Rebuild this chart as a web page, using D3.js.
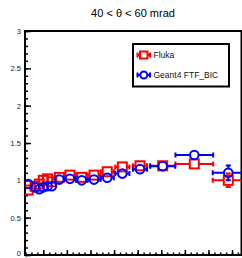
<!DOCTYPE html>
<html>
<head>
<meta charset="utf-8">
<script src="https://cdn.jsdelivr.net/npm/d3@7"></script>
<style>
  body { margin: 0; background: #fff; }
  svg { display: block; font-family: "Liberation Sans", Arial, sans-serif; }
</style>
</head>
<body>
<svg width="242" height="258"></svg>
<script>
// bin centres and half widths (arbitrary momentum units)
const binX = [0.36, 0.65, 0.83, 1.0, 1.18, 1.36, 1.68, 2.13, 2.63, 3.15, 3.71, 4.35, 5.1, 6.06, 7.4, 8.84];
const binHalf = [0.14, 0.14, 0.09, 0.09, 0.09, 0.09, 0.2, 0.25, 0.25, 0.28, 0.28, 0.3, 0.3, 0.53, 0.8, 0.66];

const flukaY = [0.87, 0.92, 0.95, 1.0, 1.02, 0.98, 1.04, 1.07, 1.04, 1.07, 1.115, 1.18, 1.195, 1.195, 1.22, 1.0];
const flukaErr = [0.02, 0.02, 0.02, 0.02, 0.02, 0.02, 0.02, 0.02, 0.02, 0.02, 0.02, 0.02, 0.02, 0.02, 0.02, 0.09];

const geantY = [0.95, 0.906, 0.88, 0.906, 0.92, 0.92, 1.01, 1.02, 1.0, 1.01, 1.035, 1.09, 1.15, 1.19, 1.34, 1.1];
const geantErr = [0.02, 0.02, 0.02, 0.02, 0.02, 0.02, 0.02, 0.02, 0.02, 0.02, 0.02, 0.02, 0.02, 0.02, 0.03, 0.1];

const yMajor = [0, 0.5, 1, 1.5, 2, 2.5, 3];
const yLabels = ["0", "0.5", "1", "1.5", "2", "2.5", "3"];
const title = "40 < \u03b8 < 60 mrad";
const legendNames = ["Fluka", "Geant4 FTF_BIC"];

const svg = d3.select("svg");
const L = 25, R = 241.5, T = 31, B = 255;

const x = d3.scaleLinear().domain([0.225, 9.4]).range([L, R]);
const y = d3.scaleLinear().domain([0, 3]).range([B, T]);

// title
svg.append("text")
  .attr("x", 133).attr("y", 16.5)
  .attr("text-anchor", "middle")
  .attr("font-size", 11)
  .text(title);

// y axis minor + major ticks
const yMinor = d3.range(0, 3.0001, 0.1);
svg.append("g")
  .attr("transform", `translate(${L},0)`)
  .call(d3.axisLeft(y).tickValues(yMinor).tickSize(-3).tickFormat(""))
  .call(g => g.select(".domain").remove())
  .call(g => g.selectAll("line").attr("stroke-width", 1.5));

svg.append("g")
  .attr("transform", `translate(${L},0)`)
  .call(d3.axisLeft(y).tickValues(yMajor).tickSize(-6).tickPadding(4)
    .tickFormat((d, i) => yLabels[i]))
  .call(g => g.select(".domain").remove())
  .call(g => g.selectAll("line").attr("stroke-width", 1.5))
  .call(g => g.selectAll("text").attr("font-size", 7.5)
    .attr("font-family", "'Liberation Sans', Arial, sans-serif").attr("fill", "#222"))
  .call(g => g.selectAll(".tick").filter(d => d === 0).select("text").attr("dy", "0.1em"));

// x axis ticks (labels fall outside the window)
const xMinor = d3.range(0.25, 9.4, 0.25);
svg.append("g")
  .attr("transform", `translate(0,${B})`)
  .call(d3.axisBottom(x).tickValues(xMinor).tickSize(-2.5).tickFormat(""))
  .call(g => g.select(".domain").remove())
  .call(g => g.selectAll("line").attr("stroke-width", 1.5));
svg.append("g")
  .attr("transform", `translate(0,${B})`)
  .call(d3.axisBottom(x).tickValues(d3.range(1, 10)).tickSize(-5).tickFormat(""))
  .call(g => g.select(".domain").remove())
  .call(g => g.selectAll("line").attr("stroke-width", 1.5));

// frame
svg.append("rect")
  .attr("x", L).attr("y", T)
  .attr("width", R - L).attr("height", B - T)
  .attr("fill", "none").attr("stroke", "#000").attr("stroke-width", 2);

svg.append("clipPath").attr("id", "plotclip")
  .append("rect").attr("x", L).attr("y", T).attr("width", R - L).attr("height", B - T);

const plot = svg.append("g").attr("clip-path", "url(#plotclip)");

function drawSeries(vals, errs, color, shape) {
  const g = plot.append("g").attr("stroke", color).attr("stroke-width", 2).attr("fill", "none");
  const gap = 4.5, cap = 2.5;
  binX.forEach((bx, i) => {
    const cx = x(bx), cy = y(vals[i]);
    const x0 = x(bx - binHalf[i]), x1 = x(bx + binHalf[i]);
    const y0 = y(vals[i] - errs[i]), y1 = y(vals[i] + errs[i]);
    if (cx - x0 > gap) {
      g.append("line").attr("x1", x0).attr("x2", cx - gap).attr("y1", cy).attr("y2", cy);
      g.append("line").attr("x1", cx + gap).attr("x2", x1).attr("y1", cy).attr("y2", cy);
      g.append("line").attr("x1", x0).attr("x2", x0).attr("y1", cy - cap).attr("y2", cy + cap);
      g.append("line").attr("x1", x1).attr("x2", x1).attr("y1", cy - cap).attr("y2", cy + cap);
    }
    if (y0 - cy > gap) {
      g.append("line").attr("x1", cx).attr("x2", cx).attr("y1", cy + gap).attr("y2", y0);
      g.append("line").attr("x1", cx).attr("x2", cx).attr("y1", cy - gap).attr("y2", y1);
      g.append("line").attr("x1", cx - cap).attr("x2", cx + cap).attr("y1", y0).attr("y2", y0);
      g.append("line").attr("x1", cx - cap).attr("x2", cx + cap).attr("y1", y1).attr("y2", y1);
    }
    drawMarker(g, cx, cy, shape);
  });
}

function drawMarker(g, cx, cy, shape) {
  if (shape === "square") {
    g.append("rect").attr("x", cx - 4.5).attr("y", cy - 4.5).attr("width", 9).attr("height", 9);
  } else {
    g.append("circle").attr("cx", cx).attr("cy", cy).attr("r", 4.3);
  }
}

drawSeries(flukaY, flukaErr, "#ff0000", "square");
drawSeries(geantY, geantErr, "#0000ff", "circle");

// legend
const lg = svg.append("g");
lg.append("rect")
  .attr("x", 133).attr("y", 44)
  .attr("width", 96).attr("height", 42.5)
  .attr("fill", "#fff").attr("stroke", "#000").attr("stroke-width", 2);

[["#ff0000", "square"], ["#0000ff", "circle"]].forEach(([color, shape], i) => {
  const cy = 55 + i * 20;
  const g = lg.append("g").attr("stroke", color).attr("stroke-width", 2).attr("fill", "none");
  g.append("line").attr("x1", 137.5).attr("x2", 150).attr("y1", cy).attr("y2", cy);
  g.append("line").attr("x1", 137.5).attr("x2", 137.5).attr("y1", cy - 2.5).attr("y2", cy + 2.5);
  g.append("line").attr("x1", 150).attr("x2", 150).attr("y1", cy - 2.5).attr("y2", cy + 2.5);
  if (shape === "square") {
    g.append("rect").attr("x", 140).attr("y", cy - 3.5).attr("width", 7.5).attr("height", 7).attr("fill", "#fff");
  } else {
    g.append("circle").attr("cx", 143.8).attr("cy", cy).attr("r", 3.5).attr("fill", "#fff");
  }
  lg.append("text")
    .attr("x", 153.5).attr("y", cy + 3)
    .attr("font-size", 8.5)
    .attr("fill", "#111")
    .text(legendNames[i]);
});
</script>
</body>
</html>
